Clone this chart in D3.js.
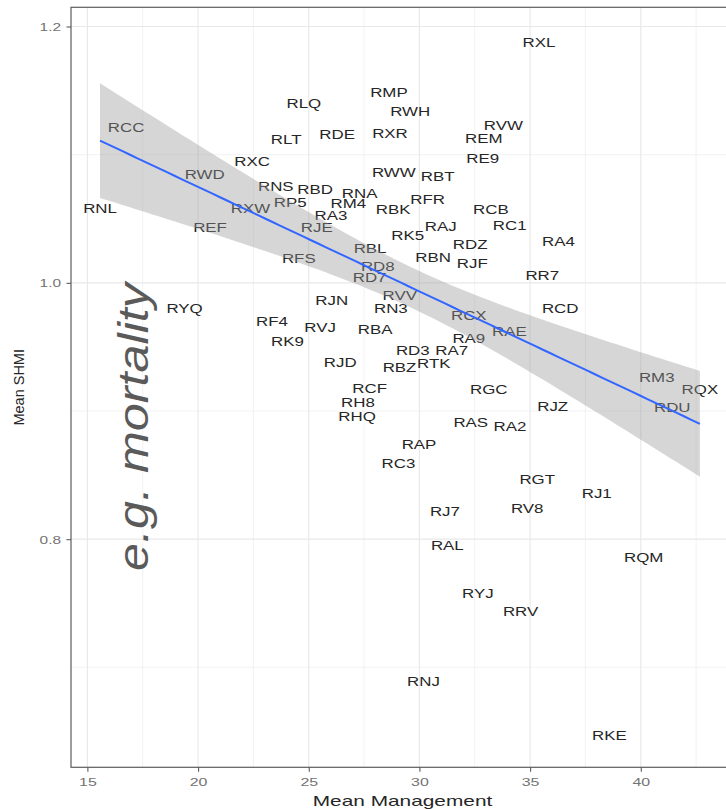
<!DOCTYPE html>
<html>
<head>
<meta charset="utf-8">
<script src="https://cdn.jsdelivr.net/npm/d3@7"></script>
<style>
  body { margin: 0; background: #fff; }
  svg { display: block; }
</style>
</head>
<body>
<script>
// Trust codes with their mean management score and mean SHMI
const codes = ["RCC","RLQ","RLT","RDE","RXC","RWD","RNS","RBD","RP5","RXW",
  "RNL","RA3","RJE","REF","RFS","RM4","RNA","RWW","RBK","RFR",
  "RK5","RBL","RD8","RD7","RXL","RMP","RWH","RXR","RVW","REM",
  "RE9","RBT","RCB","RAJ","RC1","RDZ","RA4","RBN","RJF","RR7",
  "RVV","RN3","RCD","RCX","RBA","RAE","RA9","RD3","RA7","RBZ",
  "RTK","RGC","RM3","RQX","RDU","RJZ","RAS","RA2","RAP","RC3",
  "RGT","RJ1","RJ7","RV8","RYQ","RJN","RF4","RVJ","RK9","RJD",
  "RCF","RH8","RHQ","RAL","RQM","RYJ","RRV","RNJ","RKE"];
const management = [16.75,24.78,23.98,26.28,22.44,20.30,23.51,25.29,24.16,22.37,
  15.57,26.00,25.36,20.54,24.55,26.79,27.30,28.84,28.81,30.37,
  29.47,27.77,28.12,27.75,35.40,28.62,29.58,28.67,33.79,32.91,
  32.86,30.82,33.23,30.96,34.08,32.29,36.28,30.62,32.39,35.55,
  29.11,28.71,36.36,32.23,28.00,34.06,32.23,29.70,31.46,29.10,
  30.65,33.13,40.72,42.67,41.42,36.02,32.32,34.09,29.98,29.05,
  35.32,38.01,31.15,34.87,19.39,26.04,23.34,25.51,24.04,26.42,
  27.75,27.22,27.18,31.26,40.13,32.64,34.57,30.18,38.58];
const shmi = [1.121,1.140,1.112,1.116,1.095,1.085,1.075,1.073,1.063,1.058,
  1.058,1.053,1.043,1.043,1.019,1.062,1.070,1.086,1.057,1.065,
  1.037,1.027,1.013,1.004,1.188,1.149,1.134,1.117,1.123,1.113,
  1.097,1.083,1.057,1.044,1.045,1.030,1.032,1.020,1.015,1.006,
  0.990,0.980,0.980,0.975,0.964,0.962,0.957,0.947,0.947,0.934,
  0.937,0.917,0.926,0.917,0.903,0.904,0.891,0.888,0.874,0.859,
  0.847,0.836,0.822,0.824,0.980,0.986,0.970,0.965,0.954,0.938,
  0.918,0.907,0.896,0.795,0.786,0.758,0.744,0.689,0.647];

// fitted trend: SHMI at the lowest and highest management score,
// and half-width of the 95% band at those ends
const trendEnds = [1.111, 0.890];
const bandEndHalfWidth = 0.043;

const xTicks = [15, 20, 25, 30, 35, 40];
const xMinor = [17.5, 22.5, 27.5, 32.5, 37.5, 42.5];
const yTicks = [0.8, 1.0, 1.2];
const yMinor = [0.7, 0.9, 1.1];
const xDomain = [14.26, 44.03];
const yDomain = [0.622, 1.215];
const xTitle = "Mean Management";
const yTitle = "Mean SHMI";
const note = "e.g. mortality";

const W = 726, H = 809;
const P = { left: 71, top: 7.3, right: 730, bottom: 767.3 };
const FONT = "'Liberation Sans', Arial, Helvetica, sans-serif";

const svg = d3.select("body").append("svg")
  .attr("width", W).attr("height", H)
  .attr("viewBox", `0 0 ${W} ${H}`);
svg.append("rect").attr("width", W).attr("height", H).attr("fill", "#fff");

const x = d3.scaleLinear().domain(xDomain).range([P.left, P.right]);
const y = d3.scaleLinear().domain(yDomain).range([P.bottom, P.top]);

svg.append("defs").append("clipPath").attr("id", "panel-clip")
  .append("rect").attr("x", P.left).attr("y", P.top)
  .attr("width", P.right - P.left).attr("height", P.bottom - P.top);

const panel = svg.append("g").attr("clip-path", "url(#panel-clip)");

// grid
panel.append("g").selectAll("line").data(xMinor).join("line")
  .attr("x1", d => x(d)).attr("x2", d => x(d))
  .attr("y1", P.top).attr("y2", P.bottom)
  .attr("stroke", "#efefef").attr("stroke-width", 0.8);
panel.append("g").selectAll("line").data(yMinor).join("line")
  .attr("y1", d => y(d)).attr("y2", d => y(d))
  .attr("x1", P.left).attr("x2", P.right)
  .attr("stroke", "#efefef").attr("stroke-width", 0.8);
panel.append("g").selectAll("line").data(xTicks).join("line")
  .attr("x1", d => x(d)).attr("x2", d => x(d))
  .attr("y1", P.top).attr("y2", P.bottom)
  .attr("stroke", "#e8e8e8").attr("stroke-width", 1.1);
panel.append("g").selectAll("line").data(yTicks).join("line")
  .attr("y1", d => y(d)).attr("y2", d => y(d))
  .attr("x1", P.left).attr("x2", P.right)
  .attr("stroke", "#e8e8e8").attr("stroke-width", 1.1);

// point labels
const pts = codes.map((c, i) => ({ code: c, mx: management[i], sy: shmi[i] }));
panel.append("g").selectAll("text").data(pts).join("text")
  .attr("transform", d => `translate(${x(d.mx)},${y(d.sy)}) scale(1.32,1)`)
  .attr("text-anchor", "middle")
  .attr("dy", "0.36em")
  .attr("font-family", FONT)
  .attr("font-size", 12.8)
  .attr("fill", "#262626")
  .text(d => d.code);

// trend line with its confidence band; the band keeps the usual
// regression shape, narrowest at the mean management score
const n = pts.length;
const mxBar = d3.mean(management);
const sxx = d3.sum(management, v => (v - mxBar) ** 2);
const [xmin, xmax] = d3.extent(management);
const trend = d3.scaleLinear().domain([xmin, xmax]).range(trendEnds);
const shape = g => Math.sqrt(1 / n + (g - mxBar) ** 2 / sxx);
const k = bandEndHalfWidth / ((shape(xmin) + shape(xmax)) / 2);
const fit = d3.range(0, 81).map(i => {
  const g = xmin + (xmax - xmin) * i / 80;
  const f = trend(g), hw = k * shape(g);
  return { g, f, lo: f - hw, hi: f + hw };
});

panel.append("path").datum(fit)
  .attr("d", d3.area().x(d => x(d.g)).y0(d => y(d.lo)).y1(d => y(d.hi)))
  .attr("fill", "#999").attr("fill-opacity", 0.4);
panel.append("path").datum(fit)
  .attr("d", d3.line().x(d => x(d.g)).y(d => y(d.f)))
  .attr("fill", "none").attr("stroke", "#3366ff").attr("stroke-width", 2);

// panel border
svg.append("rect")
  .attr("x", P.left).attr("y", P.top)
  .attr("width", P.right - P.left).attr("height", P.bottom - P.top)
  .attr("fill", "none").attr("stroke", "#5c5c5c").attr("stroke-width", 1.2);

// axes
const xAxis = svg.append("g").attr("transform", `translate(0,${P.bottom})`)
  .call(d3.axisBottom(x).tickValues(xTicks).tickSize(4.5).tickPadding(3).tickFormat(d3.format("d")));
const yAxis = svg.append("g").attr("transform", `translate(${P.left},0)`)
  .call(d3.axisLeft(y).tickValues(yTicks).tickSize(4.5).tickPadding(3).tickFormat(d3.format(".1f")));
[xAxis, yAxis].forEach(a => {
  a.select(".domain").remove();
  a.selectAll(".tick line").attr("stroke", "#5c5c5c").attr("stroke-width", 1.1);
  a.selectAll(".tick text").attr("fill", "#737373").attr("font-family", FONT).attr("font-size", 11);
});
xAxis.selectAll(".tick text").attr("y", 0).attr("dy", 0)
  .attr("transform", "translate(0,18.5) scale(1.45,1)");
yAxis.selectAll(".tick text").attr("x", 0).attr("dy", "0.36em")
  .attr("text-anchor", "end")
  .attr("transform", "translate(-10,0) scale(1.4,1)");

// axis titles
svg.append("text")
  .attr("transform", `translate(${(P.left + P.right) / 2 + 2},800.5) scale(1.49,1)`)
  .attr("text-anchor", "middle").attr("dy", "0.36em")
  .attr("font-family", FONT).attr("font-size", 14).attr("fill", "#262626")
  .text(xTitle);
svg.append("text")
  .attr("transform", `translate(18.8,${(P.top + P.bottom) / 2}) rotate(-90)`)
  .attr("text-anchor", "middle").attr("dy", "0.36em")
  .attr("font-family", FONT).attr("font-size", 14.5).attr("fill", "#262626")
  .text(yTitle);

// annotation over the plot
svg.append("text")
  .attr("transform", "translate(148,571) rotate(-90)")
  .attr("text-anchor", "start")
  .attr("font-family", FONT).attr("font-style", "italic")
  .attr("font-size", 42).attr("fill", "#5a5a5a")
  .attr("textLength", 288).attr("lengthAdjust", "spacingAndGlyphs")
  .text(note);
</script>
</body>
</html>
